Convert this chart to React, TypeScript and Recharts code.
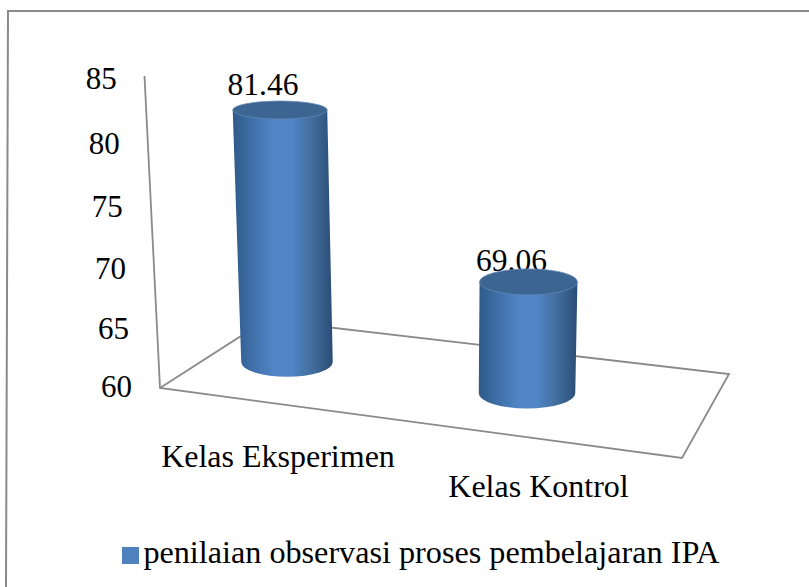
import React from 'react';
import { BarChart, Bar, XAxis, YAxis, Legend } from 'recharts';

const categories = ['Kelas Eksperimen', 'Kelas Kontrol'];
const scores = [81.46, 69.06];
const yTicks = [60, 65, 70, 75, 80, 85];
const seriesName = 'penilaian observasi proses pembelajaran IPA';

const data = categories.map((name, i) => ({ name, score: scores[i] }));

const SERIF = '"Liberation Serif", "Times New Roman", serif';
const GREY = '#8a8a8a';

const floorY = (cx: number) => 362 + 0.129 * (cx - 287);
const lean = (cx: number) => (cx - 449) * 0.000172;
const heightScale = (cx: number) => 0.953 + (cx - 287) * 0.000175;
const capRy = (y: number) => 9 + 0.0233 * (y - 110);

function Cylinder(props: any) {
  const { x, width, height, value } = props;
  const cx = x + width / 2;
  const score = Array.isArray(value) ? value[1] : value;
  const h = height * heightScale(cx);
  const yBottom = floorY(cx);
  const yTop = yBottom - h;
  const cxTop = cx + lean(cx) * h;
  const rxBottom = width / 2 + (cx - 407) * 0.0104;
  const rxTop = rxBottom + h * 0.006;
  const ryBottom = capRy(yBottom);
  const ryTop = capRy(yTop);

  const body =
    `M${cxTop - rxTop},${yTop} L${cx - rxBottom},${yBottom} ` +
    `A${rxBottom},${ryBottom} 0 0 0 ${cx + rxBottom},${yBottom} ` +
    `L${cxTop + rxTop},${yTop} Z`;

  return (
    <g>
      <text
        x={cxTop - 17}
        y={yTop - 24 + ryTop}
        textAnchor="middle"
        fontFamily={SERIF}
        fontSize={31.5}
        fill="#000"
      >
        {score.toFixed(2)}
      </text>
      <path d={body} fill="url(#cylinderBody)" />
      <ellipse cx={cxTop} cy={yTop} rx={rxTop} ry={ryTop} fill="#3d6592" stroke="#5f86b4" strokeWidth={0.8} />
    </g>
  );
}

function YTick({ y, payload }: any) {
  const wallX = 160 - (388 - y) * 0.0497;
  // labels bow a little against the wall in the reference
  const t = (388 - y) / 308;
  return (
    <text
      x={wallX - 28}
      y={y + 9 + 20 * t * (1 - t)}
      textAnchor="end"
      fontFamily={SERIF}
      fontSize={31}
      fill="#000"
    >
      {payload.value}
    </text>
  );
}

function XTick({ x, payload }: any) {
  return (
    <text
      x={x - 9 + (x - 287) * 0.0854}
      y={467 + (x - 287) * 0.125}
      textAnchor="middle"
      fontFamily={SERIF}
      fontSize={32}
      fill="#000"
    >
      {payload.value}
    </text>
  );
}

function Frame() {
  return (
    <g fill="none" stroke={GREY}>
      <path d="M809,11 L8,11 L6,587" strokeWidth={2} />
      <path d="M144.5,76 L160,388 L682,458 L729,374 L266,320 L160,388" strokeWidth={1.8} />
    </g>
  );
}

export default function App() {
  return (
    <div style={{ position: 'absolute', left: 0, top: 0, width: 809, height: 587, background: '#fff' }}>
      <BarChart
        width={809}
        height={587}
        data={data}
        barSize={94}
        margin={{ top: 80, right: 162, left: 107, bottom: 129 }}
      >
        <defs>
          <linearGradient id="cylinderBody" x1="0" y1="0" x2="1" y2="0">
            <stop offset="0%" stopColor="#2f5a8a" />
            <stop offset="25%" stopColor="#4475b0" />
            <stop offset="42%" stopColor="#5086c8" />
            <stop offset="58%" stopColor="#5086c8" />
            <stop offset="78%" stopColor="#436f9f" />
            <stop offset="100%" stopColor="#2a4d76" />
          </linearGradient>
        </defs>
        <Frame />
        <XAxis dataKey="name" height={30} axisLine={false} tickLine={false} tick={XTick} interval={0} />
        <YAxis
          width={60}
          domain={[60, 85]}
          ticks={yTicks}
          interval={0}
          axisLine={false}
          tickLine={false}
          tick={YTick}
        />
        <Legend
          height={40}
          iconType="square"
          iconSize={17}
          formatter={(v) => <span style={{ color: '#000' }}>{v}</span>}
          wrapperStyle={{ left: 96, top: 534, width: 660, fontFamily: SERIF, fontSize: 32.2 }}
        />
        <Bar dataKey="score" name={seriesName} fill="#4f81bd" shape={Cylinder} isAnimationActive={false} />
      </BarChart>
    </div>
  );
}
